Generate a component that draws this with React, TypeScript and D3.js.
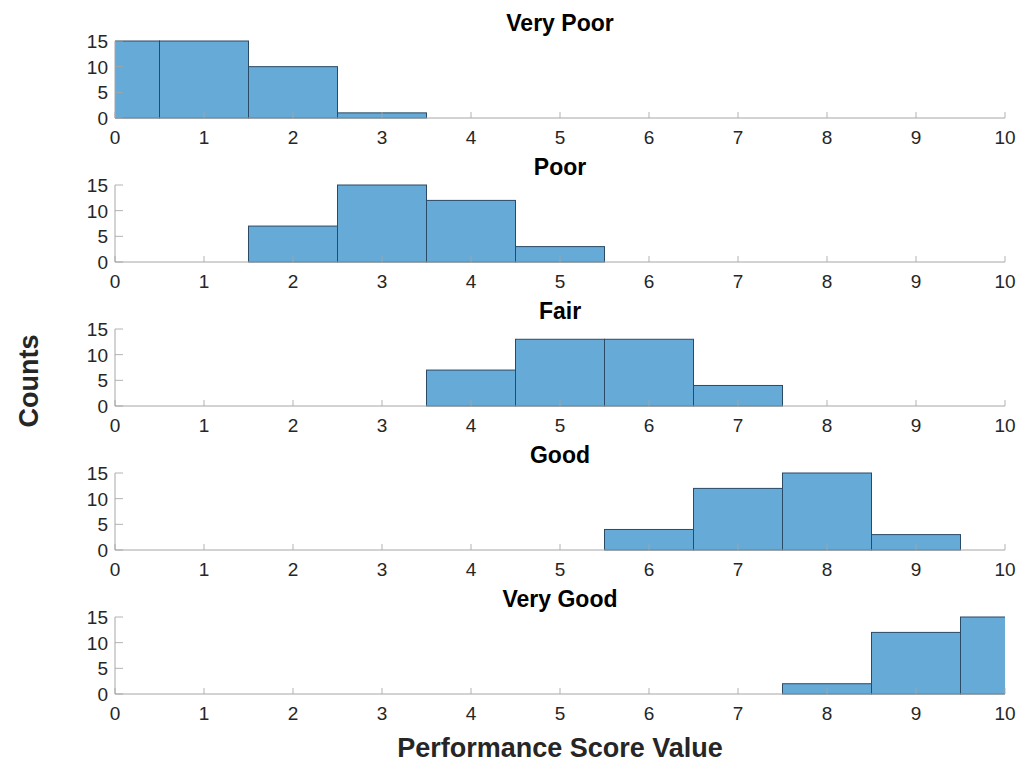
import React from "react";
import * as d3 from "d3";

// Histogram panels: bins are centred on integer scores (width 1)
const panelTitles = ["Very Poor", "Poor", "Fair", "Good", "Very Good"];
const binCentersVeryPoor = [0, 1, 2, 3];
const countsVeryPoor = [15, 15, 10, 1];
const binCentersPoor = [2, 3, 4, 5];
const countsPoor = [7, 15, 12, 3];
const binCentersFair = [4, 5, 6, 7];
const countsFair = [7, 13, 13, 4];
const binCentersGood = [6, 7, 8, 9];
const countsGood = [4, 12, 15, 3];
const binCentersVeryGood = [8, 9, 10];
const countsVeryGood = [2, 12, 15];

const xTicks = [0, 1, 2, 3, 4, 5, 6, 7, 8, 9, 10];
const yTicks = [0, 5, 10, 15];

const panels = [
  { title: panelTitles[0], centers: binCentersVeryPoor, counts: countsVeryPoor },
  { title: panelTitles[1], centers: binCentersPoor, counts: countsPoor },
  { title: panelTitles[2], centers: binCentersFair, counts: countsFair },
  { title: panelTitles[3], centers: binCentersGood, counts: countsGood },
  { title: panelTitles[4], centers: binCentersVeryGood, counts: countsVeryGood },
];

const W = 1032;
const H = 762;
const left = 115;
const right = 1005;
const firstTop = 41;
const panelH = 77;
const panelStep = 144;

const FONT = "'Liberation Sans', Arial, Helvetica, sans-serif";
const AXIS = "#a6a6a6";
const TEXT = "#262626";
const FILL = "#66aad7";
const EDGE = "#2a4a66";

export default function App() {
  const x = d3.scaleLinear().domain([0, 10]).range([left, right]);

  return (
    <svg
      width={W}
      height={H}
      style={{ position: "absolute", left: 0, top: 0, background: "#fff" }}
      fontFamily={FONT}
    >
      <defs>
        <clipPath id="plotClip">
          <rect x={left} y={0} width={right - left} height={H} />
        </clipPath>
      </defs>
      {panels.map((p, i) => {
        const top = firstTop + i * panelStep;
        const y = d3.scaleLinear().domain([0, 15]).range([top + panelH, top]);
        const y0 = y(0);
        return (
          <g key={p.title}>
            <text
              x={(left + right) / 2}
              y={top - 10}
              textAnchor="middle"
              fontSize={23}
              fontWeight="bold"
              fill="#000"
            >
              {p.title}
            </text>
            <g clipPath="url(#plotClip)">
              {p.centers.map((c, j) => (
                <rect
                  key={c}
                  x={x(c - 0.5)}
                  y={y(p.counts[j])}
                  width={x(c + 0.5) - x(c - 0.5)}
                  height={y0 - y(p.counts[j])}
                  fill={FILL}
                  stroke={EDGE}
                  strokeWidth={1}
                />
              ))}
            </g>
            {/* axes */}
            <line x1={left} x2={right} y1={y0} y2={y0} stroke={AXIS} strokeWidth={1} />
            <line x1={left} x2={left} y1={top} y2={y0} stroke={AXIS} strokeWidth={1} />
            {xTicks.map((t) => (
              <g key={"x" + t}>
                <line
                  x1={x(t)}
                  x2={x(t)}
                  y1={y0}
                  y2={y0 - 6}
                  stroke={AXIS}
                  strokeOpacity={0.85}
                  strokeWidth={1}
                />
                <text x={x(t)} y={y0 + 26} textAnchor="middle" fontSize={19} fill={TEXT}>
                  {t}
                </text>
              </g>
            ))}
            {yTicks.map((t) => (
              <g key={"y" + t}>
                <line
                  x1={left}
                  x2={left + 8}
                  y1={y(t)}
                  y2={y(t)}
                  stroke={AXIS}
                  strokeOpacity={0.85}
                  strokeWidth={1}
                />
                <text x={left - 7} y={y(t) + 7} textAnchor="end" fontSize={19} fill={TEXT}>
                  {t}
                </text>
              </g>
            ))}
          </g>
        );
      })}
      <text
        transform="translate(38,381) rotate(-90)"
        textAnchor="middle"
        fontSize={27}
        fontWeight="bold"
        fill={TEXT}
      >
        Counts
      </text>
      <text
        x={(left + right) / 2}
        y={757}
        textAnchor="middle"
        fontSize={27}
        fontWeight="bold"
        fill={TEXT}
      >
        Performance Score Value
      </text>
    </svg>
  );
}
